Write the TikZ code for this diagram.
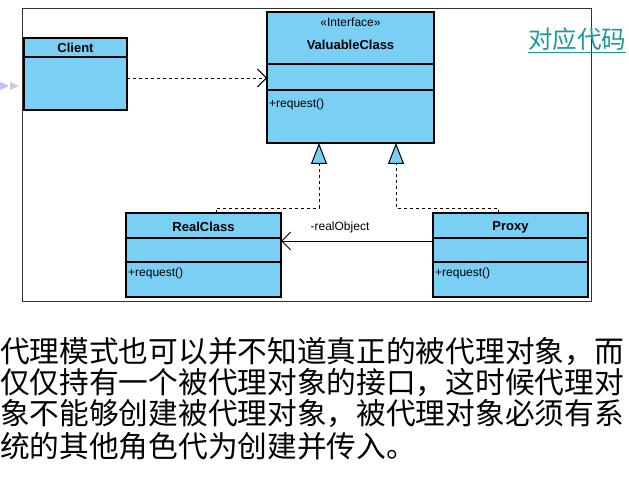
\documentclass[tikz,border=0pt]{standalone}
\usepackage{fontspec}
\setmainfont{Liberation Sans}
\newfontfamily\cjk{Noto Sans CJK SC}
\usetikzlibrary{arrows.meta}
\definecolor{boxblue}{HTML}{7ACFF5}
\definecolor{teal}{HTML}{1A9A98}
\tikzset{
  cls/.style={draw=black,line width=1.4pt,fill=boxblue},
  sep/.style={line width=1.1pt},
  barb/.style={-{Straight Barb[length=9pt,width=18pt,line width=0.9pt]}},
  dep/.style={dashed,barb},
  real/.style={dashed,line width=0.9pt,-{Triangle[open,length=21pt,width=16pt,fill=boxblue,line width=1pt]}},
  lbl/.style={font=\fontsize{12}{13}\selectfont},
  ttl/.style={font=\bfseries\fontsize{13}{14}\selectfont},
}
\begin{document}
\begin{tikzpicture}[x=1pt,y=-1pt]
\useasboundingbox (0,0) rectangle (629,481);
\clip (0,0) rectangle (629,481);
\draw[line width=0.9pt,draw=black!80] (22,8) rectangle (591,301);
% Client
\draw[cls] (24,38) rectangle (127,110);
\draw[sep] (24,57) -- (127,57);
\node[ttl] (client) at (75.5,48) {Client};
\coordinate (cR) at (127,78);
% ValuableClass
\draw[cls] (267,12) rectangle (434,143);
\draw[sep] (267,64) -- (434,64) (267,90) -- (434,90);
\node[lbl] (stereo) at (350.5,22) {\textless\textless Interface\textgreater\textgreater};
\node[ttl] (vc) at (350.5,45) {ValuableClass};
\node[lbl,anchor=west,inner sep=1pt] (vcm) at (268,104) {+request()};
\coordinate (vL) at (267,78);
\coordinate (t1) at (319,143);
\coordinate (t2) at (396,143);
% RealClass
\draw[cls] (126,213) rectangle (281,297);
\draw[sep] (126,238) -- (281,238) (126,262) -- (281,262);
\node[ttl] (rc) at (203.5,227) {RealClass};
\node[lbl,anchor=west,inner sep=1pt] (rcm) at (127,273) {+request()};
\coordinate (rR) at (281,241);
\coordinate (rT) at (216,213);
% Proxy
\draw[cls] (433,213) rectangle (588,297);
\draw[sep] (433,238) -- (588,238) (433,262) -- (588,262);
\node[ttl] (px) at (510.5,227) {Proxy};
\node[lbl,anchor=west,inner sep=1pt] (pxm) at (434,273) {+request()};
\coordinate (pL) at (433,241);
\coordinate (pT) at (498,213);
% connectors
\draw[dep,line width=0.9pt] (cR) -- (vL);
\draw[real] (rT) |- (319,208) -- (t1);
\draw[real] (pT) |- (396,208) -- (t2);
\draw[barb,line width=0.8pt] (pL) -- (rR);
\node[lbl] (ro) at (340,227) {-realObject};
% side arrows
\fill[blue!25] (0,82) -- (9,86) -- (0,90) -- cycle;
\fill[gray!40] (10,82) -- (19,86) -- (10,90) -- cycle;
% title
\node[anchor=west,text=teal,font=\cjk\fontsize{24.5}{26}\selectfont,inner sep=0pt] (code) at (528,40) {\underline{对应代码}};
% text
\begin{scope}[every node/.style={anchor=west,inner sep=0pt,font=\cjk\fontsize{29.7}{31}\selectfont}]
\node (l1) at (0,352) {代理模式也可以并不知道真正的被代理对象，而};
\node (l2) at (0,383) {仅仅持有一个被代理对象的接口，这时候代理对};
\node (l3) at (0,414) {象不能够创建被代理对象，被代理对象必须有系};
\node (l4) at (0,446) {统的其他角色代为创建并传入。};
\end{scope}
\end{tikzpicture}
\end{document}
